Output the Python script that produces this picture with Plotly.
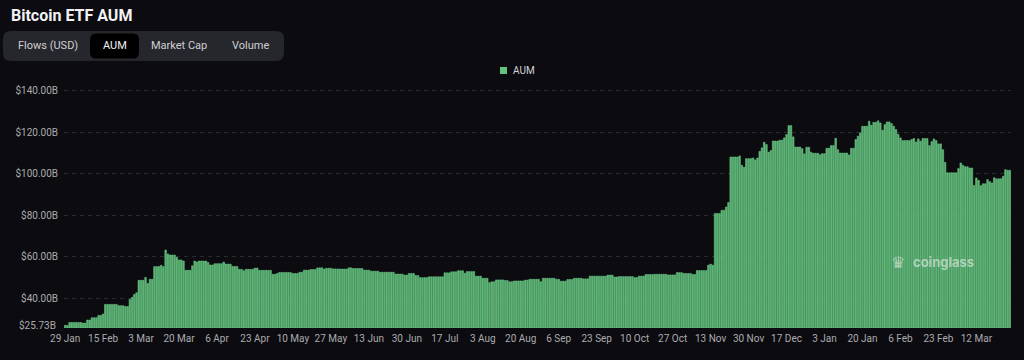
import pandas as pd
import plotly.graph_objects as go

# ---- data (USD billions, daily from 29 Jan 2024) ----
start_date = "2024-01-29"
aum = [
    27.0, 27.0, 28.4, 28.4, 28.4, 28.4, 28.4, 28.4, 28.1, 28.1,
    29.6, 29.6, 30.7, 30.7, 30.7, 31.8, 31.8, 32.5, 37.1, 37.1,
    37.1, 37.1, 37.1, 37.1, 36.5, 36.5, 36.5, 36.1, 36.1, 39.5,
    40.5, 41.9, 42.7, 48.7, 48.7, 48.7, 50.1, 47.2, 49.2, 49.2,
    55.3, 55.3, 55.3, 55.9, 55.3, 63.3, 61.4, 60.9, 60.9, 60.9,
    59.7, 58.5, 58.5, 58.0, 53.5, 53.5, 53.5, 55.7, 58.0, 57.5,
    58.0, 58.0, 58.0, 58.0, 57.3, 56.1, 56.1, 56.7, 56.7, 56.7,
    56.7, 57.5, 56.5, 56.5, 56.5, 55.4, 55.4, 55.4, 54.0, 54.0,
    53.3, 54.0, 54.0, 54.0, 54.0, 54.6, 54.6, 53.5, 53.5, 53.5,
    53.5, 53.5, 53.5, 51.6, 51.6, 52.0, 52.5, 52.5, 52.5, 52.5,
    52.5, 52.4, 52.0, 52.0, 52.0, 52.6, 52.6, 53.6, 53.6, 53.6,
    53.9, 53.9, 53.9, 54.7, 54.7, 54.7, 54.1, 54.5, 54.5, 54.5,
    54.2, 54.2, 54.2, 54.1, 54.1, 54.1, 54.1, 54.7, 54.7, 54.4,
    54.4, 54.4, 54.4, 54.4, 53.6, 53.6, 53.6, 53.1, 53.1, 53.1,
    53.1, 52.6, 52.6, 52.6, 52.6, 52.6, 52.6, 52.6, 51.7, 51.7,
    51.7, 51.7, 51.2, 51.2, 52.0, 52.0, 52.0, 51.0, 51.0, 50.0,
    50.0, 50.0, 50.0, 50.4, 50.4, 50.4, 50.4, 50.4, 50.4, 50.4,
    52.3, 52.3, 52.3, 52.8, 52.8, 52.8, 53.3, 53.3, 53.3, 52.1,
    52.9, 52.9, 52.9, 52.9, 50.7, 50.7, 50.7, 49.7, 49.7, 49.7,
    47.6, 48.0, 48.0, 48.9, 48.9, 48.9, 48.9, 48.6, 48.6, 48.0,
    48.0, 48.4, 48.4, 48.4, 48.4, 48.4, 48.8, 48.8, 49.2, 49.2,
    49.2, 49.2, 49.2, 48.0, 49.7, 49.7, 49.7, 49.7, 49.7, 49.7,
    49.2, 49.2, 48.3, 48.3, 48.3, 49.1, 49.1, 49.1, 49.7, 49.7,
    49.7, 49.7, 49.4, 49.4, 49.4, 50.7, 50.7, 50.7, 50.7, 50.7,
    50.7, 50.7, 50.7, 51.2, 51.2, 51.2, 50.3, 50.3, 50.5, 50.5,
    50.5, 50.5, 50.5, 50.5, 50.5, 50.0, 50.0, 50.7, 50.7, 50.7,
    51.5, 51.5, 51.5, 51.5, 51.6, 51.6, 51.6, 51.6, 51.6, 51.6,
    51.3, 51.3, 51.3, 51.3, 52.4, 52.4, 52.4, 52.0, 52.0, 52.0,
    52.0, 51.5, 51.5, 53.4, 53.4, 53.4, 53.4, 53.4, 56.0, 56.5,
    56.0, 80.9, 80.9, 80.9, 82.4, 82.4, 84.0, 86.2, 108.1, 108.1,
    108.1, 108.1, 108.6, 104.1, 103.1, 107.3, 107.3, 107.3, 107.6, 106.7,
    107.6, 110.8, 112.5, 115.2, 114.1, 110.4, 111.2, 115.8, 115.8, 115.8,
    116.2, 116.2, 117.3, 118.9, 123.2, 123.2, 117.8, 112.9, 112.9, 112.9,
    112.1, 109.6, 112.8, 112.8, 110.4, 109.9, 109.9, 109.9, 109.2, 109.7,
    109.7, 112.3, 112.3, 113.6, 113.6, 117.1, 111.6, 110.0, 110.0, 110.0,
    110.0, 109.1, 112.3, 112.3, 116.5, 118.1, 119.7, 122.9, 122.9, 122.9,
    125.3, 123.4, 124.8, 124.8, 125.5, 124.5, 121.0, 123.7, 125.0, 125.0,
    124.2, 122.9, 121.3, 119.0, 117.3, 116.0, 116.0, 116.0, 116.0, 116.5,
    117.0, 115.3, 116.8, 115.7, 117.0, 117.0, 117.0, 113.6, 115.5, 116.8,
    116.0, 114.4, 114.4, 111.6, 105.5, 100.5, 100.5, 100.5, 100.5, 100.5,
    102.5, 105.2, 104.1, 103.4, 103.4, 102.8, 102.8, 94.4, 98.0, 96.8,
    94.3, 95.2, 95.2, 97.2, 96.2, 95.6, 98.1, 97.6, 97.6, 97.6,
    98.8, 102.0, 101.7, 101.7,
]
x_tick_dates = [
    "2024-01-29", "2024-02-15", "2024-03-03", "2024-03-20", "2024-04-06",
    "2024-04-23", "2024-05-10", "2024-05-27", "2024-06-13", "2024-06-30",
    "2024-07-17", "2024-08-03", "2024-08-20", "2024-09-06", "2024-09-23",
    "2024-10-10", "2024-10-27", "2024-11-13", "2024-11-30", "2024-12-17",
    "2025-01-03", "2025-01-20", "2025-02-06", "2025-02-23", "2025-03-12",
]
x_tick_labels = [
    "29 Jan", "15 Feb", "3 Mar", "20 Mar", "6 Apr", "23 Apr", "10 May",
    "27 May", "13 Jun", "30 Jun", "17 Jul", "3 Aug", "20 Aug", "6 Sep",
    "23 Sep", "10 Oct", "27 Oct", "13 Nov", "30 Nov", "17 Dec", "3 Jan",
    "20 Jan", "6 Feb", "23 Feb", "12 Mar",
]
y_min = 25.73
y_max = 141.8
y_tick_vals = [40, 60, 80, 100, 120, 140]
y_tick_labels = ["$40.00B", "$60.00B", "$80.00B", "$100.00B", "$120.00B", "$140.00B"]
buttons = ["Flows (USD)", "AUM", "Market Cap", "Volume"]
selected_button = "AUM"
series_name = "AUM"

dates = pd.date_range(start_date, periods=len(aum), freq="D")

# ---- geometry helpers (pixels -> paper) ----
W, H = 1024, 360
ML, MR, MT, MB = 64, 13, 87, 32
PW, PH = W - ML - MR, H - MT - MB


def px(x):
    return (x - ML) / PW


def py(y):
    return (H - MB - y) / PH


def rrect(x0, y0, x1, y1, r):
    X0, X1 = px(x0), px(x1)
    Y0, Y1 = py(y0), py(y1)  # Y0 top, Y1 bottom
    rx, ry = r / PW, r / PH
    return (f"M {X0+rx},{Y0} L {X1-rx},{Y0} Q {X1},{Y0} {X1},{Y0-ry} "
            f"L {X1},{Y1+ry} Q {X1},{Y1} {X1-rx},{Y1} L {X0+rx},{Y1} "
            f"Q {X0},{Y1} {X0},{Y1+ry} L {X0},{Y0-ry} Q {X0},{Y0} {X0+rx},{Y0} Z")


BG = "#0b0b10"
GREEN_FILL = "#57ad6f"
GREEN_LINE = "#72d48e"
TICK_COLOR = "#ababaf"
FONT = "Roboto, Inter, sans-serif"

fig = go.Figure()
fig.add_trace(go.Bar(
    x=dates, y=[v - y_min for v in aum], base=y_min, name=series_name,
    customdata=aum, hovertemplate="%{customdata:.2f}B<extra></extra>",
    marker=dict(color=GREEN_FILL, line=dict(color=GREEN_LINE, width=0.5)),
    showlegend=False,
))

half = pd.Timedelta(hours=12)
fig.update_layout(
    width=W, height=H, autosize=False,
    paper_bgcolor=BG, plot_bgcolor=BG,
    margin=dict(l=ML, r=MR, t=MT, b=MB),
    bargap=0.28,
    title=dict(text="<b>Bitcoin ETF AUM</b>", x=11 / W, xanchor="left", xref="container",
               y=1 - 15 / H, yanchor="middle", yref="container",
               font=dict(color="#f2f2f4", size=16, family=FONT)),
    xaxis=dict(type="date", range=[dates[0] - half, dates[-1] + half],
               tickvals=x_tick_dates, ticktext=x_tick_labels, tickangle=0,
               showgrid=False, zeroline=False, showline=False, ticks="",
               ticklabelstandoff=3, automargin=False,
               tickfont=dict(color=TICK_COLOR, size=10, family=FONT)),
    yaxis=dict(range=[y_min, y_max], tickvals=y_tick_vals, ticktext=y_tick_labels,
               showgrid=True, gridcolor="#2a2a31", griddash="4px,4px", gridwidth=1,
               zeroline=False, showline=False, ticks="",
               ticklabelstandoff=5, automargin=False,
               tickfont=dict(color=TICK_COLOR, size=10, family=FONT)),
)

shapes = [
    dict(type="path", xref="paper", yref="paper", path=rrect(3, 31, 284, 61, 8),
         fillcolor="#26272c", line=dict(width=0), layer="above"),
    dict(type="path", xref="paper", yref="paper", path=rrect(90, 33.5, 139, 58.5, 6),
         fillcolor="#000000", line=dict(width=0), layer="above"),
    # legend swatch
    dict(type="rect", xref="paper", yref="paper",
         x0=px(500), x1=px(507), y0=py(74), y1=py(67),
         fillcolor="#62c47c", line=dict(width=0)),
]
fig.update_layout(shapes=shapes)

annotations = []
btn_centers = [48, 114.5, 179, 250]
for label, cx in zip(buttons, btn_centers):
    annotations.append(dict(
        text=label, x=px(cx), y=py(46), xref="paper", yref="paper",
        xanchor="center", yanchor="middle", showarrow=False,
        font=dict(color="#f0f0f2" if label == selected_button else "#cfcfd3",
                  size=11, family=FONT)))
annotations.append(dict(
    text=series_name, x=px(511), y=py(70.5), xref="paper", yref="paper",
    xanchor="left", yanchor="middle", showarrow=False,
    font=dict(color="#d4d4d8", size=10, family=FONT)))
annotations.append(dict(
    text="$25.73B", x=px(58), y=py(325), xref="paper", yref="paper",
    xanchor="right", yanchor="middle", showarrow=False,
    font=dict(color=TICK_COLOR, size=10, family=FONT)))
annotations.append(dict(
    text="<b>coinglass</b>", x=px(911), y=py(262), xref="paper", yref="paper",
    xanchor="left", yanchor="middle", showarrow=False,
    font=dict(color="rgba(235,240,235,0.6)", size=13, family="Inter, Roboto, sans-serif")))
annotations.append(dict(
    text="<b>♛</b>", x=px(898), y=py(262), xref="paper", yref="paper",
    xanchor="center", yanchor="middle", showarrow=False,
    font=dict(color="rgba(235,240,235,0.6)", size=16, family="DejaVu Sans")))
fig.update_layout(annotations=annotations)

fig.write_html("out.html", config={"displayModeBar": False},
               post_script="document.body.style.margin='0';")
